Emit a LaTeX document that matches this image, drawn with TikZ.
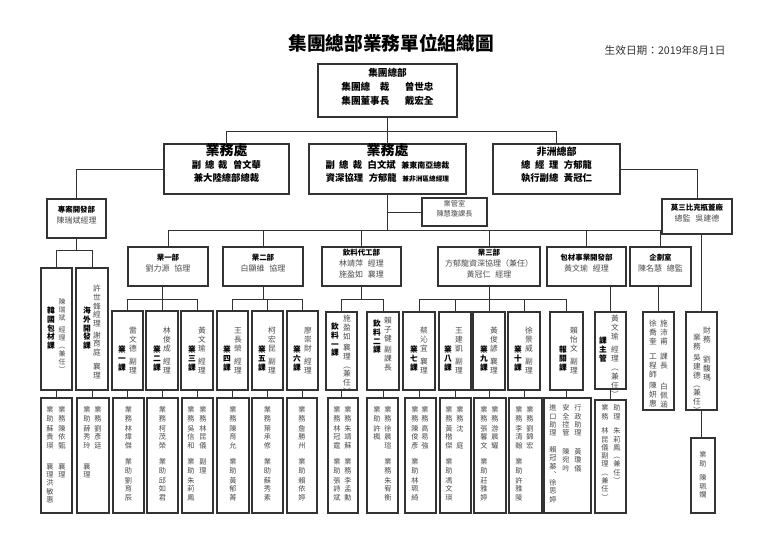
\documentclass[tikz,border=0pt]{standalone}
\usepackage{fontspec}
\setmainfont{Noto Sans CJK TC}
\usepackage{tikz}
\usetikzlibrary{fit}
\definecolor{linegray}{HTML}{333333}
\definecolor{namegray}{HTML}{4A4A4A}
\ExplSyntaxOn
\NewDocumentCommand\vcol{m}{
  \vtop{\offinterlineskip
    \tl_map_inline:nn {#1}{
      \tl_if_eq:nnTF {##1}{|}
        {\vskip 0.3em}
        {\hbox to 1.15em{\hss\raisebox{0pt}[0.9em][0.25em]{##1}\hss}}}}}
\ExplSyntaxOff
\newcommand\hdname[1]{\textcolor{black}{\bfseries\fontsize{5.6}{8.3}\selectfont #1}}
\newcommand\gap{\hspace{0.6em}}
\tikzset{
  line/.style={draw=linegray, line width=0.75pt},
  hbox/.style={draw=linegray, line width=0.9pt, inner sep=0pt, align=center},
  vbox/.style={draw=linegray, line width=0.9pt, inner sep=0pt},
  hdtxt/.style={font=\fontsize{6}{8.3}\selectfont, text=namegray},
  vname/.style={anchor=north, inner sep=0pt, font=\fontsize{5.8}{6}\selectfont\bfseries},
  vhead/.style={anchor=north, inner sep=0pt, font=\fontsize{5.8}{6}\selectfont, text=namegray},
  vstaff/.style={anchor=north, inner sep=0pt, font=\fontsize{5.4}{6}\selectfont, text=namegray}
}

\begin{document}
\begin{tikzpicture}[x=0.75pt,y=-0.75pt]
  \useasboundingbox (0,0) rectangle (768,543);

  \node[font=\fontsize{14}{16}\selectfont\bfseries] (title) at (391,43) {集團總部業務單位組織圖};
  \node[anchor=west, font=\fontsize{8}{9}\selectfont, text=black!80] (date) at (600,50) {生效日期：2019年8月1日};

  \node[hbox, fit={(318,64) (457,117)}, font=\fontsize{7.2}{10.5}\selectfont\bfseries] (hq)
    {集團總部\\集團總\quad 裁\hspace{1.6em}曾世忠\\集團董事長\hspace{1.6em}戴宏全};

  \node[hbox, fit={(164,144) (289,194)}, font=\fontsize{7}{10}\selectfont\bfseries] (salesL)
    {{\fontsize{10.5}{12}\selectfont 業務處}\\副\hspace{0.4em}總\hspace{0.4em}裁\gap 曾文華\\兼大陸總部總裁};
  \node[hbox, fit={(309,144) (466,194)}, font=\fontsize{7}{10}\selectfont\bfseries] (salesM)
    {{\fontsize{10.5}{12}\selectfont 業務處}\\副\hspace{0.45em}總\hspace{0.45em}裁\gap 白文斌\gap{\fontsize{6}{7}\selectfont 兼東南亞總裁}\\資深協理\gap 方郁龍\gap{\fontsize{5}{6}\selectfont 兼非洲區總經理}};
  \node[hbox, fit={(493,144) (620,194)}, font=\fontsize{7}{9.75}\selectfont\bfseries] (africa)
    {{\fontsize{7.5}{9}\selectfont 非洲總部}\\總\hspace{0.5em}經\hspace{0.5em}理\gap 方郁龍\\執行副總\gap 黃冠仁};
  \node[hbox, fit={(422,198) (487,226)}, font=\fontsize{5.4}{7.5}\selectfont, text=namegray] (office)
    {業管室\\陳慧瓊課長};

  \node[hbox, hdtxt, fit={(47,199) (106,238)}] (proj) {\hdname{專案開發部}\\陳瑞斌經理};
  \node[hbox, hdtxt, fit={(662,199) (732,234)}] (moz) {\hdname{莫三比克瓶蓋廠}\\總監\gap 吳建德};
  \node[hbox, hdtxt, fit={(128,247) (208,286)}] (dept1) {\hdname{業一部}\\劉力源\gap 協理};
  \node[hbox, hdtxt, fit={(223,247) (303,286)}] (dept2) {\hdname{業二部}\\白顯維\gap 協理};
  \node[hbox, hdtxt, fit={(322,247) (401,286)}] (bev) {\hdname{飲料代工部}\\林靖萍\gap 經理\\施盈如\gap 襄理};
  \node[hbox, hdtxt, fit={(438,247) (540,286)}] (dept3) {\hdname{業三部}\\方郁龍資深協理（兼任）\\黃冠仁\gap 經理};
  \node[hbox, hdtxt, fit={(547,247) (626,286)}] (pack) {\hdname{包材事業開發部}\\黃文瑜\gap 經理};
  \node[hbox, hdtxt, fit={(630,247) (691,286)}] (plan) {\hdname{企劃室}\\陳名慧\gap 總監};

  \node[vbox, fit={(41,268) (72,390)}] (kor) {};
  \node[vbox, fit={(76,268) (108,390)}] (ovs) {};
  \node[vbox, fit={(112,311) (143,390)}] (s1) {};
  \node[vbox, fit={(146,311) (178,390)}] (s2) {};
  \node[vbox, fit={(181,311) (213,390)}] (s3) {};
  \node[vbox, fit={(217,311) (248,390)}] (s4) {};
  \node[vbox, fit={(252,311) (283,390)}] (s5) {};
  \node[vbox, fit={(287,311) (318,390)}] (s6) {};
  \node[vbox, fit={(326,312) (357,390)}] (b1) {};
  \node[vbox, fit={(367,312) (399,390)}] (b2) {};
  \node[vbox, fit={(403,312) (435,390)}] (s7) {};
  \node[vbox, fit={(439,312) (471,390)}] (s8) {};
  \node[vbox, fit={(473,312) (505,390)}] (s9) {};
  \node[vbox, fit={(508,312) (540,390)}] (s10) {};
  \node[vbox, fit={(550,312) (583,390)}] (cus) {};
  \node[vbox, fit={(595,312) (626,389)}] (mgr) {};
  \node[vbox, fit={(643,312) (674,410)}] (planc) {};
  \node[vbox, fit={(686,312) (717,410)}] (mozc) {};

  \node[vname] (korn) at (51,306) {\vcol{韓國包材課}};
  \node[vhead, font=\fontsize{5.2}{6}\selectfont] (korp) at (62,298) {\vcol{陳瑞斌||經理︵兼任︶}};
  \node[vname] (ovsn) at (87,306) {\vcol{海外開發課}};
  \node[vhead] (ovsp) at (97,284) {\vcol{許世鋒經理|謝育庭||襄理}};
  \node[vname] (s1n) at (122,345) {\vcol{業一課}};
  \node[vhead] (s1p) at (133,326) {\vcol{雷文德||副理}};
  \node[vname] (s2n) at (157,345) {\vcol{業二課}};
  \node[vhead] (s2p) at (167,326) {\vcol{林俊成||經理}};
  \node[vname] (s3n) at (192,345) {\vcol{業三課}};
  \node[vhead] (s3p) at (202,326) {\vcol{黃文瑜||經理}};
  \node[vname] (s4n) at (227,345) {\vcol{業四課}};
  \node[vhead] (s4p) at (238,326) {\vcol{王長榮||經理}};
  \node[vname] (s5n) at (262,345) {\vcol{業五課}};
  \node[vhead] (s5p) at (272,326) {\vcol{柯宏昆||副理}};
  \node[vname] (s6n) at (297,345) {\vcol{業六課}};
  \node[vhead] (s6p) at (308,326) {\vcol{廖崇財||經理}};
  \node[vname] (b1n) at (335,322) {\vcol{飲料一課}};
  \node[vhead] (b1p) at (347,314) {\vcol{施盈如|襄理︵兼任︶}};
  \node[vname] (b2n) at (377,319) {\vcol{飲料二課}};
  \node[vhead] (b2p) at (388,316) {\vcol{賴子健|副課長}};
  \node[vname] (s7n) at (414,345) {\vcol{業七課}};
  \node[vhead] (s7p) at (424,326) {\vcol{蔡沁宜||襄理}};
  \node[vname] (s8n) at (448,345) {\vcol{業八課}};
  \node[vhead] (s8p) at (459,326) {\vcol{王建凱||副理}};
  \node[vname] (s9n) at (484,345) {\vcol{業九課}};
  \node[vhead] (s9p) at (494,326) {\vcol{黃俊諺||襄理}};
  \node[vname] (s10n) at (518,345) {\vcol{業十課}};
  \node[vhead] (s10p) at (529,326) {\vcol{徐景威||副理}};
  \node[vname] (cusn) at (563,345) {\vcol{報關課}};
  \node[vhead] (cusp) at (574,326) {\vcol{賴怡文||副理}};
  \node[vname] (mgrn) at (603,336) {\vcol{課主管}};
  \node[vhead] (mgrp) at (615,314) {\vcol{黃文瑜||經理︵兼任︶}};
  \node[vhead] (plancr) at (664,319) {\vcol{施沛甫|||課長|||||白佩涵}};
  \node[vhead] (plancl) at (653,319) {\vcol{徐喬奎|||工程師|陳妍惠}};
  \node[vhead] (mozcr) at (707,326) {\vcol{財務|||||劉馥瑪}};
  \node[vhead] (mozcl) at (697,333) {\vcol{業務|吳建德︵兼任︶}};

  \node[vbox, fit={(41,398) (72,513)}] (gkor) {};
  \node[vbox, fit={(77,398) (109,513)}] (govs) {};
  \node[vbox, fit={(113,398) (144,513)}] (g1) {};
  \node[vbox, fit={(147,398) (178,513)}] (g2) {};
  \node[vbox, fit={(182,398) (213,513)}] (g3) {};
  \node[vbox, fit={(217,398) (249,513)}] (g4) {};
  \node[vbox, fit={(252,398) (283,513)}] (g5) {};
  \node[vbox, fit={(287,398) (317,513)}] (g6) {};
  \node[vbox, fit={(328,398) (358,513)}] (gb1) {};
  \node[vbox, fit={(367,398) (398,513)}] (gb2) {};
  \node[vbox, fit={(405,398) (436,513)}] (g7) {};
  \node[vbox, fit={(440,398) (471,513)}] (g8) {};
  \node[vbox, fit={(474,398) (506,513)}] (g9) {};
  \node[vbox, fit={(509,398) (542,513)}] (g10) {};
  \node[vbox, fit={(544,398) (591,513)}] (gcus) {};
  \node[vbox, fit={(595,400) (626,513)}] (gmgr) {};
  \node[vbox, fit={(691,438) (715,513)}] (gmoz) {};

  \node[vstaff] (gkorr) at (62,406) {\vcol{業務|陳依甄||||||襄理}};
  \node[vstaff] (gkorl) at (50,406) {\vcol{業助|蘇貴瑛||||||襄理洪敏惠}};
  \node[vstaff] (govsr) at (98,406) {\vcol{業務|劉彥廷}};
  \node[vstaff] (govsl) at (87,406) {\vcol{業助|薛秀玲||||||襄理}};
  \node[vstaff] (g1t) at (128.5,406) {\vcol{業務|林煒傑||||業助|劉育辰}};
  \node[vstaff] (g2t) at (162.5,406) {\vcol{業務|柯茂榮||||業助|邱如君}};
  \node[vstaff] (g3r) at (203,406) {\vcol{業務|林昆儀||||副理}};
  \node[vstaff] (g3l) at (191,406) {\vcol{業務|吳信和||||業助|朱莉鳳}};
  \node[vstaff] (g4t) at (233,406) {\vcol{業務|陳育允||||業助|黃郁菁}};
  \node[vstaff] (g5t) at (267.5,406) {\vcol{業務|葉承修||||業助|蘇秀素}};
  \node[vstaff] (g6t) at (302,406) {\vcol{業務|詹勝州||||業助|賴依婷}};
  \node[vstaff] (gb1r) at (348,406) {\vcol{業務|朱靖蘇||||業務|李孟勳}};
  \node[vstaff] (gb1l) at (337,406) {\vcol{業務|林冠霆||||業助|張詩斌}};
  \node[vstaff] (gb2r) at (388,406) {\vcol{業務|徐晨瑄||||業務|朱宥衡}};
  \node[vstaff] (gb2l) at (377,406) {\vcol{業助|許楓}};
  \node[vstaff] (g7r) at (425,406) {\vcol{業務|高易強}};
  \node[vstaff] (g7l) at (415,406) {\vcol{業務|陳俊彥||||業助|林珮綺}};
  \node[vstaff] (g8r) at (460,406) {\vcol{業務|沈||||庭}};
  \node[vstaff] (g8l) at (449,406) {\vcol{業務|黃楷傑||||業助|馮文瑛}};
  \node[vstaff] (g9r) at (495,406) {\vcol{業務|游晨耀}};
  \node[vstaff] (g9l) at (484,406) {\vcol{業務|張馨文||||業助|莊雅婷}};
  \node[vstaff] (g10r) at (530,406) {\vcol{業務|劉錦宏}};
  \node[vstaff] (g10l) at (519,406) {\vcol{業務|李清翰||||業助|許雅陵}};
  \node[vstaff] (gcusa) at (578,404) {\vcol{行政助理|||||黃瓊儀}};
  \node[vstaff] (gcusb) at (566,404) {\vcol{安全控管|||||陳宛吟}};
  \node[vstaff] (gcusc) at (553,404) {\vcol{進口助理||||賴冠蓁︑徐思婷}};
  \node[vstaff] (gmgrr) at (617,404) {\vcol{助理|||朱莉鳳︵兼任︶}};
  \node[vstaff] (gmgrl) at (605,404) {\vcol{業務|||林昆儀副理︵兼任︶}};
  \node[vstaff] (gmozt) at (703,451) {\vcol{業助|||陳珮嫺}};

  \coordinate (bus0) at (0,131);
  \coordinate (bus1) at (0,230);
  \coordinate (bus2) at (0,250);
  \coordinate (bus3) at (0,299);

  \draw[line] (hq.south) -- (salesM.north);
  \draw[line] (salesL.north) -- (salesL.north |- bus0) -| (africa.north);
  \draw[line] (salesL.west) -| (proj.north);
  \draw[line] (africa.east) -| (moz.north);
  \draw[line] (salesM.south) -- (salesM.south |- bus1);
  \draw[line] (salesM.south |- office.west) -- (office.west);

  \draw[line] (dept1.north) -- (dept1.north |- bus1) -| (plan.north);
  \draw[line] (dept2.north) -- (dept2.north |- bus1);
  \draw[line] (bev.north) -- (bev.north |- bus1);
  \draw[line] (dept3.north) -- (dept3.north |- bus1);
  \draw[line] (pack.north) -- (pack.north |- bus1);

  \draw[line] (proj.south) -- (proj.south |- bus2);
  \draw[line] (kor.north) -- (kor.north |- bus2) -| (ovs.north);

  \draw[line] (s2.north |- dept1.south) -- (s2.north);
  \draw[line] (s1.north) -- (s1.north |- bus3) -| (s3.north);
  \draw[line] (dept2.south) -- (dept2.south |- bus3);
  \draw[line] (s4.north) -- (s4.north |- bus3) -| (s6.north);
  \draw[line] (s5.north) -- (s5.north |- bus3);
  \draw[line] (bev.south) -- (bev.south |- bus3);
  \draw[line] (b1.north) -- (b1.north |- bus3) -| (b2.north);
  \draw[line] (dept3.south) -- (dept3.south |- bus3);
  \draw[line] (s7.north) -- (s7.north |- bus3) -| (cus.north);
  \draw[line] (s8.north) -- (s8.north |- bus3);
  \draw[line] (s9.north) -- (s9.north |- bus3);
  \draw[line] (s10.north) -- (s10.north |- bus3);
  \draw[line] (mgr.north |- pack.south) -- (mgr.north);
  \draw[line] (planc.north |- plan.south) -- (planc.north);
  \draw[line] (mozc.north |- moz.south) -- (mozc.north);

  \draw[line] (kor.south) -- (kor.south |- gkor.north);
  \draw[line] (ovs.south) -- (ovs.south |- govs.north);
  \draw[line] (s1.south) -- (s1.south |- g1.north);
  \draw[line] (s2.south) -- (s2.south |- g2.north);
  \draw[line] (s3.south) -- (s3.south |- g3.north);
  \draw[line] (s4.south) -- (s4.south |- g4.north);
  \draw[line] (s5.south) -- (s5.south |- g5.north);
  \draw[line] (s6.south) -- (s6.south |- g6.north);
  \draw[line] (b1.south) -- (b1.south |- gb1.north);
  \draw[line] (b2.south) -- (b2.south |- gb2.north);
  \draw[line] (s7.south) -- (s7.south |- g7.north);
  \draw[line] (s8.south) -- (s8.south |- g8.north);
  \draw[line] (s9.south) -- (s9.south |- g9.north);
  \draw[line] (s10.south) -- (s10.south |- g10.north);
  \draw[line] (cus.south) -- (cus.south |- gcus.north);
  \draw[line] (mgr.south) -- (mgr.south |- gmgr.north);
  \draw[line] (mozc.south) -- (mozc.south |- gmoz.north);
\end{tikzpicture}
\end{document}
